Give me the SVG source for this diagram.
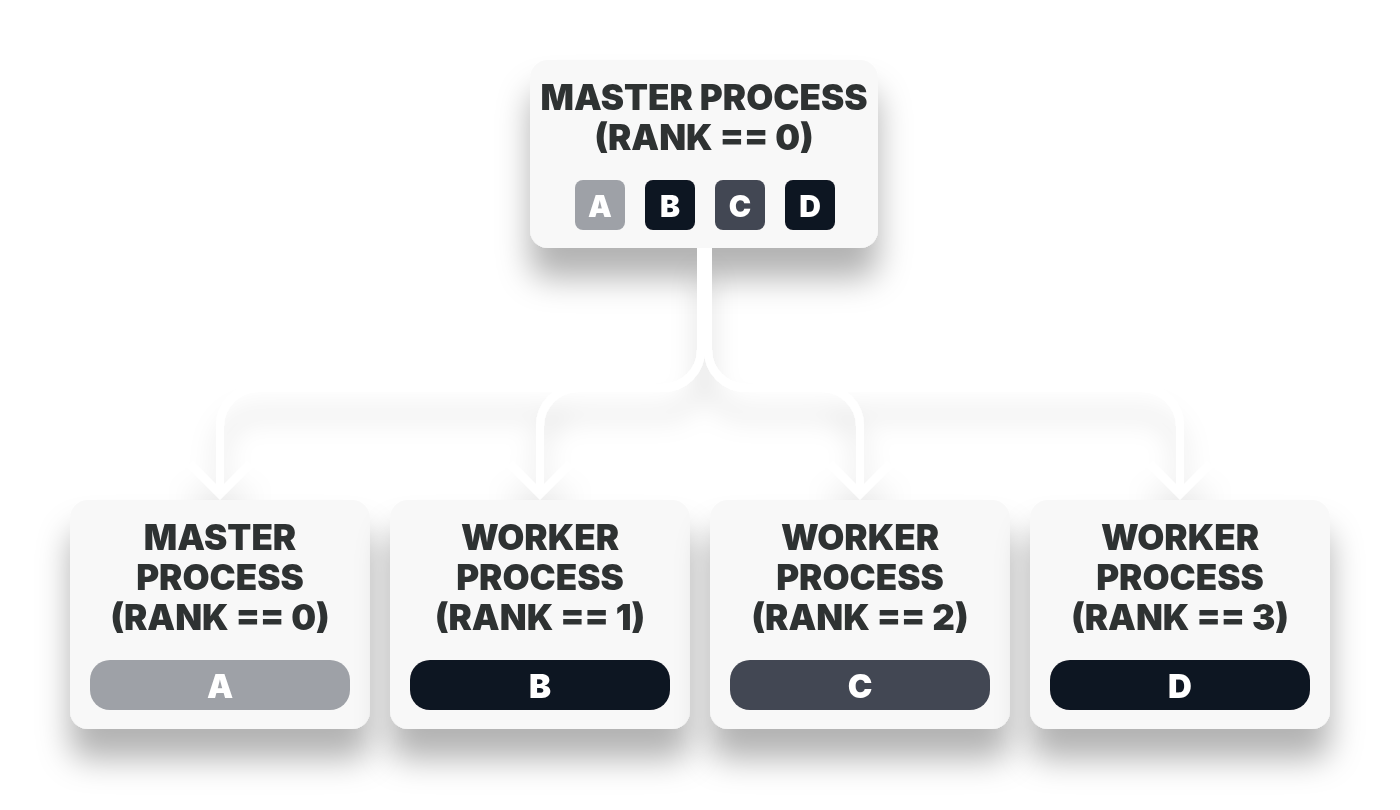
<svg xmlns="http://www.w3.org/2000/svg" width="1400" height="810" viewBox="0 0 1400 810">
  <defs>
    <filter id="nodeShadow" x="-30%" y="-30%" width="160%" height="200%">
      <feGaussianBlur in="SourceAlpha" stdDeviation="16"/>
      <feOffset dy="30" result="b"/>
      <feFlood flood-color="#000" flood-opacity="0.3"/>
      <feComposite in2="b" operator="in"/>
      <feMerge><feMergeNode/><feMergeNode in="SourceGraphic"/></feMerge>
    </filter>
    <filter id="lineShadow" x="-20%" y="-20%" width="140%" height="180%">
      <feGaussianBlur in="SourceAlpha" stdDeviation="13"/>
      <feOffset dy="26" result="b"/>
      <feFlood flood-color="#000" flood-opacity="0.13"/>
      <feComposite in2="b" operator="in"/>
      <feMerge><feMergeNode/><feMergeNode in="SourceGraphic"/></feMerge>
    </filter>
    <marker id="chev" markerUnits="userSpaceOnUse" viewBox="-40 -40 50 80" markerWidth="50" markerHeight="80" refX="0" refY="0" orient="auto" overflow="visible">
      <path d="M-30 -30 L0 0 L-30 30" fill="none" stroke="#fff" stroke-width="8" stroke-linejoin="miter"/>
    </marker>
  </defs>
  <style>
    .card { fill: #f8f8f8; }
    .title { font-family: Inter, "Liberation Sans", sans-serif; font-weight: 900; font-size: 35px; fill: #2f3133; text-anchor: middle; }
    .chipTxt { font-family: Inter, "Liberation Sans", sans-serif; font-weight: 900; font-size: 30px; fill: #ffffff; text-anchor: middle; }
    .pillTxt { font-family: Inter, "Liberation Sans", sans-serif; font-weight: 900; font-size: 33px; fill: #ffffff; text-anchor: middle; }
    .cA { fill: #9ea1a7; }
    .cB { fill: #111723; }
    .cC { fill: #434753; }
    .cD { fill: #111723; }
    .conn { fill: none; stroke: #ffffff; stroke-width: 8; marker-end: url(#chev); }
  </style>
  <rect width="1400" height="810" fill="#ffffff"/>

  <g id="master-top" filter="url(#nodeShadow)">
    <rect class="card" x="530" y="60" width="348" height="188" rx="18"/>
    <text class="title" x="704" y="110">MASTER PROCESS</text>
    <text class="title" x="704" y="150">(RANK == 0)</text>
    <rect class="cA" x="575" y="180" width="50" height="50" rx="8"/>
    <rect class="cB" x="645" y="180" width="50" height="50" rx="8"/>
    <rect class="cC" x="715" y="180" width="50" height="50" rx="8"/>
    <rect class="cD" x="785" y="180" width="50" height="50" rx="8"/>
    <text class="chipTxt" x="600" y="217">A</text>
    <text class="chipTxt" x="670" y="217">B</text>
    <text class="chipTxt" x="740" y="217">C</text>
    <text class="chipTxt" x="810" y="217">D</text>
  </g>

  <g id="connectors" filter="url(#lineShadow)">
    <path class="conn" d="M701 248 V350 A38 38 0 0 1 663 388 H258 A38 38 0 0 0 220 426 V494"/>
    <path class="conn" d="M701 248 V350 A38 38 0 0 1 663 388 H578 A38 38 0 0 0 540 426 V494"/>
    <path class="conn" d="M708 248 V350 A38 38 0 0 0 746 388 H822 A38 38 0 0 1 860 426 V494"/>
    <path class="conn" d="M708 248 V350 A38 38 0 0 0 746 388 H1142 A38 38 0 0 1 1180 426 V494"/>
  </g>

  <g id="node-rank0" filter="url(#nodeShadow)">
    <rect class="card" x="70" y="500" width="300" height="229" rx="18"/>
    <text class="title" x="220" y="550">MASTER</text>
    <text class="title" x="220" y="590">PROCESS</text>
    <text class="title" x="220" y="630">(RANK == 0)</text>
    <rect class="cA" x="90" y="660" width="260" height="50" rx="20"/>
    <text class="pillTxt" x="220" y="698">A</text>
  </g>

  <g id="node-rank1" filter="url(#nodeShadow)">
    <rect class="card" x="390" y="500" width="300" height="229" rx="18"/>
    <text class="title" x="540" y="550">WORKER</text>
    <text class="title" x="540" y="590">PROCESS</text>
    <text class="title" x="540" y="630">(RANK == 1)</text>
    <rect class="cB" x="410" y="660" width="260" height="50" rx="20"/>
    <text class="pillTxt" x="540" y="698">B</text>
  </g>

  <g id="node-rank2" filter="url(#nodeShadow)">
    <rect class="card" x="710" y="500" width="300" height="229" rx="18"/>
    <text class="title" x="860" y="550">WORKER</text>
    <text class="title" x="860" y="590">PROCESS</text>
    <text class="title" x="860" y="630">(RANK == 2)</text>
    <rect class="cC" x="730" y="660" width="260" height="50" rx="20"/>
    <text class="pillTxt" x="860" y="698">C</text>
  </g>

  <g id="node-rank3" filter="url(#nodeShadow)">
    <rect class="card" x="1030" y="500" width="300" height="229" rx="18"/>
    <text class="title" x="1180" y="550">WORKER</text>
    <text class="title" x="1180" y="590">PROCESS</text>
    <text class="title" x="1180" y="630">(RANK == 3)</text>
    <rect class="cD" x="1050" y="660" width="260" height="50" rx="20"/>
    <text class="pillTxt" x="1180" y="698">D</text>
  </g>
</svg>
